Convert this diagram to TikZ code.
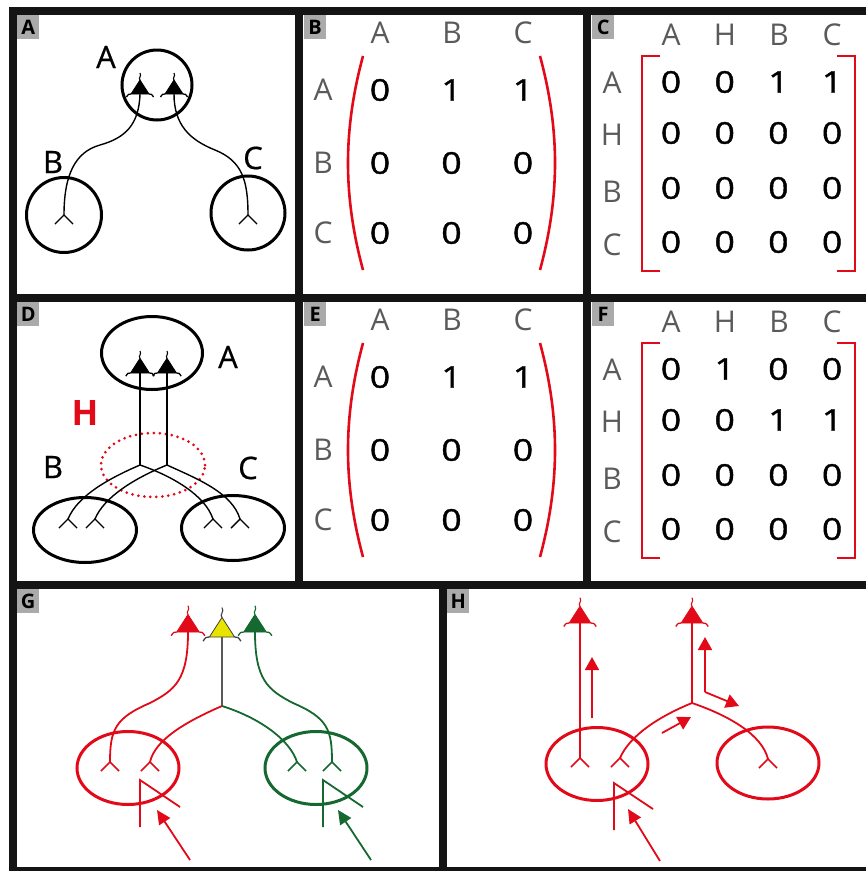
\documentclass[tikz,border=0pt]{standalone}
\usepackage{fontspec}
\usepackage{graphicx}
\setmainfont{Open Sans}
\newfontfamily\heavyfont{Open Sans}[FakeBold=1.2]
\newfontfamily\midfont{Open Sans}[FakeBold=0.6]
\usetikzlibrary{shapes.geometric,arrows.meta}

\definecolor{nred}{RGB}{226,10,24}
\definecolor{ngreen}{RGB}{20,104,48}
\definecolor{nyellow}{RGB}{233,227,0}
\definecolor{hdrgray}{RGB}{90,90,90}
\definecolor{tagbg}{RGB}{170,170,170}
\definecolor{framecol}{RGB}{20,20,20}

\tikzset{
  % pyramidal neuron: filled soma, basal whiskers, apical tuft
  pics/pyr/.style 2 args={code={
    \path[fill=#1, draw=#2, line width=0.8pt, line join=round] (-9,0) -- (0,-14) -- (9,0) -- cycle;
    \draw[#2, line width=1.3pt] (-9,0) .. controls (-11.5,0) .. (-13.5,3);
    \draw[#2, line width=1.3pt] (9,0) .. controls (11.5,0) .. (13.5,3);
    \draw[#2, line width=1.1pt] (0,-14) .. controls (-2,-16) and (2,-18) .. (0,-21);
  }},
  % axon terminal fork
  pics/fork/.style={code={\draw (-9,9) -- (0,0) -- (9,9);}},
}
\newcommand\widedigit[1]{\scalebox{1.18}[1]{#1}}

\begin{document}
\begin{tikzpicture}[x=1pt,y=-1pt,
  frame/.style={line width=8pt, draw=framecol},
  paneltag/.style={fill=tagbg, minimum width=22pt, minimum height=24pt, inner sep=0pt,
    anchor=north west, font=\fontsize{20}{20}\selectfont\bfseries},
  lbl/.style={inner sep=0pt, font=\fontsize{31}{31}\selectfont\midfont},
  hdrtext/.style={inner sep=0pt, text=hdrgray, font=\fontsize{30}{30}\selectfont},
  numtext/.style={inner sep=0pt, font=\fontsize{30}{30}\selectfont\heavyfont},
  cell/.style={draw, line width=3pt, inner sep=0pt},
  roundcell/.style={cell, circle, minimum size=#1},
  oval/.style 2 args={cell, ellipse, minimum width=#1, minimum height=#2},
  hzone/.style={draw=nred, ellipse, minimum width=104pt, minimum height=64pt, inner sep=0pt,
    line width=3pt, dash pattern=on 0pt off 6pt, line cap=round},
  axon/.style={line width=1.4pt},
  caxon/.style={line width=1.8pt},
  inarrow/.style={line width=1.8pt, -{Triangle[length=14pt,width=13pt]}},
  smallarrow/.style={line width=1.8pt, -{Triangle[length=13pt,width=14pt]}},
  brack/.style={draw=nred, line width=2.6pt},
]
\path[use as bounding box] (0,0) rectangle (866,871);
\clip (0,0) rectangle (866,871);

% ---------- panel frames ----------
\draw[frame] (13,11) rectangle (895,871);
\draw[frame] (13,298) -- (895,298);
\draw[frame] (13,585) -- (895,585);
\draw[frame] (299,11) -- (299,585);
\draw[frame] (587,11) -- (587,585);
\draw[frame] (443,585) -- (443,871);

\node[paneltag] (tA) at (17,15) {A};
\node[paneltag] (tB) at (304,15) {B};
\node[paneltag] (tC) at (592,15) {C};
\node[paneltag] (tD) at (17,302) {D};
\node[paneltag] (tE) at (304,302) {E};
\node[paneltag] (tF) at (592,302) {F};
\node[paneltag] (tG) at (17,589) {G};
\node[paneltag] (tH) at (447,589) {H};

% ---------- A: three cells, two direct projections ----------
\node[roundcell=70pt] (cA) at (157,85) {};
\node[roundcell=75pt] (cB) at (64,215) {};
\node[roundcell=74pt] (cC) at (248,213) {};
\node[lbl] (lA) at (106,57) {A};
\node[lbl] (lB) at (53,162) {B};
\node[lbl] (lC) at (253,158) {C};
\coordinate (aS1) at (140,94);
\coordinate (aS2) at (174,94);
\coordinate (aT1) at (64,215);
\coordinate (aT2) at (248,215);
\pic at (aS1) {pyr={black}{black}};
\pic at (aS2) {pyr={black}{black}};
\draw[axon] (aS1) .. controls (139,125) and (125,138) .. (100,145)
                  .. controls (75,152) and (64,175) .. (aT1);
\draw[axon] (aS2) .. controls (174,125) and (190,140) .. (215,150)
                  .. controls (242,161) and (248,180) .. (aT2);
\pic[line width=1.4pt] at (aT1) {fork};
\pic[line width=1.4pt] at (aT2) {fork};

% ---------- B: 3x3 matrix ----------
\foreach \c/\x in {A/380,B/452,C/523} \node[hdrtext] (bh\c) at (\x,33) {\c};
\foreach \r/\y in {A/90,B/163,C/233} \node[hdrtext] (br\r) at (323,\y) {\r};
\foreach \row/\y/\vals in {1/90/{0,1,1},2/163/{0,0,0},3/233/{0,0,0}}
  \foreach \v [count=\col] in \vals
    \node[numtext] (b\row\col) at ({380+71.5*(\col-1)},\y) {\widedigit{\v}};
\draw[brack] (363,56) .. controls (343,130) and (343,196) .. (363,270);
\draw[brack] (540,56) .. controls (560,130) and (560,196) .. (540,270);

% ---------- C: 4x4 matrix ----------
\foreach \c/\x in {A/671,H/725,B/779,C/832} \node[hdrtext] (ch\c) at (\x,35) {\c};
\foreach \r/\y in {A/83,H/135,B/192,C/245} \node[hdrtext] (cr\r) at (612,\y) {\r};
\foreach \row/\y/\vals in {1/82/{0,0,1,1},2/133/{0,0,0,0},3/188/{0,0,0,0},4/242/{0,0,0,0}}
  \foreach \v [count=\col] in \vals
    \node[numtext] (c\row\col) at ({671+53.7*(\col-1)},\y) {\widedigit{\v}};
\draw[brack] (660,56) -- (642,56) -- (642,271) -- (660,271);
\draw[brack] (837,56) -- (855,56) -- (855,271) -- (837,271);

% ---------- D: hidden node H ----------
\node[oval={101pt}{73pt}] (dA) at (152,353) {};
\node[oval={103pt}{65pt}] (dB) at (85,530) {};
\node[oval={103pt}{65pt}] (dC) at (233,528) {};
\node[hzone] (dH) at (153,465) {};
\node[lbl] (dlA) at (228,357) {A};
\node[lbl] (dlB) at (53,467) {B};
\node[lbl] (dlC) at (248,468) {C};
\node[inner sep=0pt, text=nred, font=\fontsize{35}{35}\selectfont\bfseries] (dlH) at (85,413) {H};
\coordinate (dS1) at (140,373);
\coordinate (dS2) at (167,373);
\coordinate (dJ1) at (140,465);
\coordinate (dJ2) at (167,465);
\coordinate (dT1) at (68,519);
\coordinate (dT2) at (95,519);
\coordinate (dT3) at (213,519);
\coordinate (dT4) at (240,519);
\pic[scale=1.05] at (dS1) {pyr={black}{black}};
\pic[scale=1.05] at (dS2) {pyr={black}{black}};
\draw[axon] (dS1) -- (dJ1);
\draw[axon] (dS2) -- (dJ2);
\draw[axon] (dJ1) .. controls (110,478) and (78,495) .. (dT1);
\draw[axon] (dJ2) .. controls (135,478) and (104,497) .. (dT2);
\draw[axon] (dJ1) .. controls (172,476) and (205,495) .. (dT3);
\draw[axon] (dJ2) .. controls (195,478) and (232,492) .. (dT4);
\foreach \t in {dT1,dT2,dT3,dT4} \pic[line width=1.4pt] at (\t) {fork};

% ---------- E: 3x3 matrix ----------
\begin{scope}[shift={(0,287)}]
\foreach \c/\x in {A/380,B/452,C/523} \node[hdrtext] (eh\c) at (\x,33) {\c};
\foreach \r/\y in {A/90,B/163,C/233} \node[hdrtext] (er\r) at (323,\y) {\r};
\foreach \row/\y/\vals in {1/90/{0,1,1},2/163/{0,0,0},3/233/{0,0,0}}
  \foreach \v [count=\col] in \vals
    \node[numtext] (e\row\col) at ({380+71.5*(\col-1)},\y) {\widedigit{\v}};
\draw[brack] (363,56) .. controls (343,130) and (343,196) .. (363,270);
\draw[brack] (540,56) .. controls (560,130) and (560,196) .. (540,270);
\end{scope}

% ---------- F: 4x4 matrix ----------
\begin{scope}[shift={(0,287)}]
\foreach \c/\x in {A/671,H/725,B/779,C/832} \node[hdrtext] (fh\c) at (\x,35) {\c};
\foreach \r/\y in {A/83,H/135,B/192,C/245} \node[hdrtext] (fr\r) at (612,\y) {\r};
\foreach \row/\y/\vals in {1/82/{0,1,0,0},2/133/{0,0,1,1},3/188/{0,0,0,0},4/242/{0,0,0,0}}
  \foreach \v [count=\col] in \vals
    \node[numtext] (f\row\col) at ({671+53.7*(\col-1)},\y) {\widedigit{\v}};
\draw[brack] (660,56) -- (642,56) -- (642,271) -- (660,271);
\draw[brack] (837,56) -- (855,56) -- (855,271) -- (837,271);
\end{scope}

% ---------- G: coloured projections ----------
\node[oval={102pt}{73pt}, draw=nred] (gB) at (128,768) {};
\node[oval={102pt}{73pt}, draw=ngreen] (gC) at (316,768) {};
\coordinate (gSy) at (222,637);
\coordinate (gSr) at (188,632);
\coordinate (gSg) at (255,632);
\coordinate (gJ) at (222,706);
\coordinate (gT1) at (110,762);
\coordinate (gT2) at (150,762);
\coordinate (gT3) at (297,762);
\coordinate (gT4) at (332,762);
\draw[line width=1.8pt, black!65] (gSy) -- (gJ);
\draw[caxon, nred] (gJ) .. controls (185,722) and (155,740) .. (gT2);
\draw[caxon, ngreen] (gJ) .. controls (260,718) and (290,740) .. (gT3);
\draw[caxon, nred] (gSr) .. controls (188,680) and (175,690) .. (150,703)
                        .. controls (115,718) and (110,730) .. (gT1);
\draw[caxon, ngreen] (gSg) .. controls (255,680) and (268,690) .. (293,703)
                        .. controls (328,718) and (332,730) .. (gT4);
\pic[scale=1.25] at (gSr) {pyr={nred}{nred}};
\pic[scale=1.25] at (gSg) {pyr={ngreen}{ngreen}};
\pic[scale=1.4] at (gSy) {pyr={nyellow}{black!75}};
\foreach \t in {gT1,gT2} \pic[nred, line width=1.6pt] at (\t) {fork};
\foreach \t in {gT3,gT4} \pic[ngreen, line width=1.6pt] at (\t) {fork};
\coordinate (gI1) at (140,827);
\coordinate (gI1b) at (140,780);
\coordinate (gI1c) at (180,807);
\draw[caxon, nred] (gI1) -- (gI1b) -- (gI1c);
\coordinate (gI2) at (323,827);
\coordinate (gI2b) at (323,780);
\coordinate (gI2c) at (363,807);
\draw[caxon, ngreen] (gI2) -- (gI2b) -- (gI2c);
\coordinate (gA1s) at (190,860);
\coordinate (gA1e) at (157,810);
\coordinate (gA2s) at (371,860);
\coordinate (gA2e) at (338,810);
\draw[inarrow, nred] (gA1s) -- (gA1e);
\draw[inarrow, ngreen] (gA2s) -- (gA2e);

% ---------- H: propagation through the hidden cell ----------
\begin{scope}[nred]
\node[oval={102pt}{73pt}] (hB) at (597,764) {};
\node[oval={102pt}{72pt}] (hC) at (768,763) {};
\coordinate (hS1) at (580,623);
\coordinate (hS2) at (692,623);
\coordinate (hT1) at (580,758);
\coordinate (hJ) at (692,703);
\coordinate (hT2) at (620,758);
\coordinate (hT3) at (768,759);
\draw[caxon] (hS1) -- (hT1);
\draw[caxon] (hS2) -- (hJ);
\draw[caxon] (hJ) .. controls (660,716) and (630,735) .. (hT2);
\draw[caxon] (hJ) .. controls (730,716) and (762,735) .. (hT3);
\pic[scale=1.2] at (hS1) {pyr={nred}{nred}};
\pic[scale=1.2] at (hS2) {pyr={nred}{nred}};
\foreach \t in {hT1,hT2,hT3} \pic[line width=1.6pt] at (\t) {fork};
\coordinate (hU1s) at (592,718);
\coordinate (hU1e) at (592,657);
\draw[smallarrow] (hU1s) -- (hU1e);
\coordinate (hL) at (705,692);
\coordinate (hLu) at (705,637);
\coordinate (hLr) at (739,706);
\draw[smallarrow] (hL) -- (hLu);
\draw[smallarrow] (hL) -- (hLr);
\coordinate (hDs) at (662,733);
\coordinate (hDe) at (691,717);
\draw[smallarrow] (hDs) -- (hDe);
\coordinate (hI) at (614,830);
\coordinate (hIb) at (614,783);
\coordinate (hIc) at (653,809);
\draw[caxon] (hI) -- (hIb) -- (hIc);
\coordinate (hAs) at (660,861);
\coordinate (hAe) at (628,809);
\draw[inarrow] (hAs) -- (hAe);
\end{scope}
\end{tikzpicture}
\end{document}
